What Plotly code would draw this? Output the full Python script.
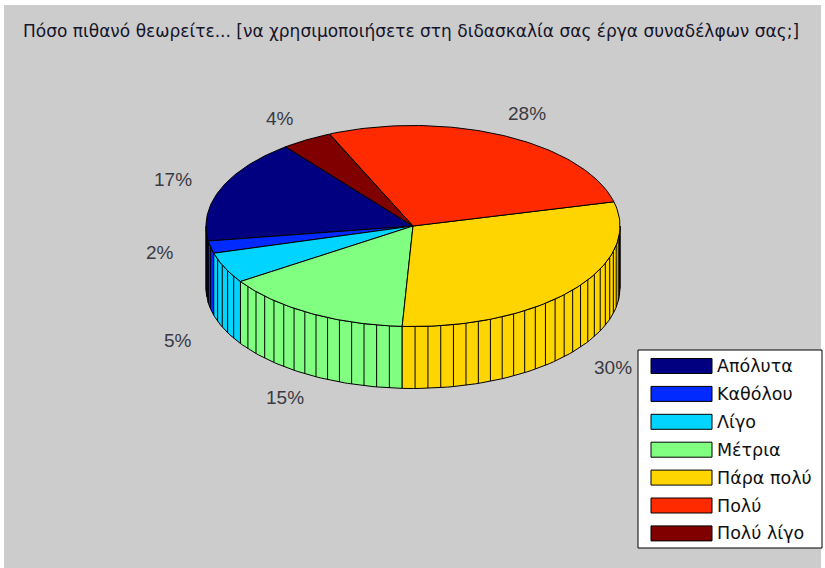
import numpy as np
import plotly.graph_objects as go

# ---- data -------------------------------------------------------------
title_text = "Πόσο πιθανό θεωρείτε... [να χρησιμοποιήσετε στη διδασκαλία σας έργα συναδέλφων σας;]"
categories = ["Απόλυτα", "Καθόλου", "Λίγο", "Μέτρια", "Πάρα πολύ", "Πολύ", "Πολύ λίγο"]
percent = [17, 2, 5, 15, 30, 28, 4]

# ---- styling / geometry -----------------------------------------------
W, H_PX = 825, 568
CX, CY = 413.0, 226.0      # centre of the pie top
RX, RY = 207.0, 100.5      # projected radii (elevated view)
DEPTH = 62.0               # projected thickness of the pie
START = 128.0              # angle where the first slice begins (deg)
MAXPTS = 100               # facets around the full pie
BG = "#cccccc"
EDGE = "#000000"
TEXT_FONT = "DejaVu Sans, Verdana, sans-serif"
LABEL_FONT = "Liberation Sans, Arial, sans-serif"


def jet(x):
    r = np.clip(1.5 - abs(4 * x - 3), 0, 1)
    g = np.clip(1.5 - abs(4 * x - 2), 0, 1)
    b = np.clip(1.5 - abs(4 * x - 1), 0, 1)
    return "rgb(%d,%d,%d)" % (round(r * 255), round(g * 255), round(b * 255))


n_cat = len(categories)
colors = [jet(i / (n_cat - 1)) for i in range(n_cat)]


def proj(theta_deg, r=1.0, z=0.0):
    t = np.radians(theta_deg)
    return CX + r * RX * np.cos(t), CY - r * RY * np.sin(t) + z


values = np.array(percent, dtype=float)
frac = values / values.sum()
bounds = START + 360.0 * np.concatenate([[0], np.cumsum(frac)])

fig = go.Figure()

# ---- side walls (front half only) --------------------------------------
for i in range(n_cat):
    a0, a1 = bounds[i], bounds[i + 1]
    for w0, w1 in ((180.0, 360.0), (540.0, 720.0)):
        lo, hi = max(a0, w0), min(a1, w1)
        if hi <= lo:
            continue
        arc = np.linspace(lo, hi, 60)
        xt, yt = proj(arc)
        xb, yb = proj(arc[::-1], z=DEPTH)
        fig.add_trace(go.Scatter(
            x=np.concatenate([xt, xb, xt[:1]]),
            y=np.concatenate([yt, yb, yt[:1]]),
            fill="toself", fillcolor=colors[i], mode="lines",
            line=dict(color=EDGE, width=1), hoverinfo="skip", showlegend=False))
        # facet edges
        nseg = max(1, int(np.ceil(MAXPTS * frac[i])))
        nodes = np.linspace(a0, a1, nseg + 1)
        vx, vy = [], []
        for a in nodes:
            if lo < a < hi:
                x0, y0 = proj(a)
                x1, y1 = proj(a, z=DEPTH)
                vx += [x0, x1, None]
                vy += [y0, y1, None]
        if vx:
            fig.add_trace(go.Scatter(
                x=vx, y=vy, mode="lines", line=dict(color=EDGE, width=1),
                hoverinfo="skip", showlegend=False))

# ---- top faces ---------------------------------------------------------
for i in range(n_cat):
    arc = np.linspace(bounds[i], bounds[i + 1], 80)
    xa, ya = proj(arc)
    fig.add_trace(go.Scatter(
        x=np.concatenate([[CX], xa, [CX]]),
        y=np.concatenate([[CY], ya, [CY]]),
        fill="toself", fillcolor=colors[i], mode="lines",
        line=dict(color=EDGE, width=1), hoverinfo="skip", showlegend=False))

# ---- percentage labels -------------------------------------------------
annotations = []
for i in range(n_cat):
    mid = 0.5 * (bounds[i] + bounds[i + 1])
    drop = DEPTH if np.sin(np.radians(mid)) < -0.3 else 0.0
    lx, ly = proj(mid, r=1.25, z=drop)
    annotations.append(dict(
        x=lx, y=ly, xref="x", yref="y", text="%d%%" % percent[i],
        showarrow=False, xanchor="center", yanchor="middle",
        font=dict(family=LABEL_FONT, size=19, color="#3a3a44")))

# ---- title -------------------------------------------------------------
annotations.append(dict(
    x=21, y=31, xref="x", yref="y", text=title_text, showarrow=False,
    xanchor="left", yanchor="middle",
    font=dict(family=TEXT_FONT, size=17, color="#15152a")))

# ---- legend box --------------------------------------------------------
shapes = [
    dict(type="rect", xref="x", yref="y", x0=4, x1=821, y0=5, y1=H_PX,
         fillcolor=BG, line=dict(width=0), layer="below"),
    dict(type="rect", xref="x", yref="y", x0=638, x1=822, y0=350, y1=548,
         fillcolor="white", line=dict(color="#000000", width=1), layer="above"),
]
LEG_Y0, LEG_DY = 366.0, 27.9
for i in range(n_cat):
    yc = LEG_Y0 + i * LEG_DY
    shapes.append(dict(type="rect", xref="x", yref="y", x0=651, x1=712,
                       y0=yc - 7.5, y1=yc + 7.5, fillcolor=colors[i],
                       line=dict(color="#000000", width=1), layer="above"))
    annotations.append(dict(
        x=715, y=yc, xref="x", yref="y", text=categories[i], showarrow=False,
        xanchor="left", yanchor="middle",
        font=dict(family=TEXT_FONT, size=17.5, color="#111111")))

fig.update_layout(
    width=W, height=H_PX, margin=dict(l=0, r=0, t=0, b=0),
    paper_bgcolor="white", plot_bgcolor="rgba(0,0,0,0)",
    xaxis=dict(range=[0, W], visible=False, fixedrange=True),
    yaxis=dict(range=[H_PX, 0], visible=False, fixedrange=True),
    shapes=shapes, annotations=annotations, showlegend=False,
)

fig.write_html("out.html")
